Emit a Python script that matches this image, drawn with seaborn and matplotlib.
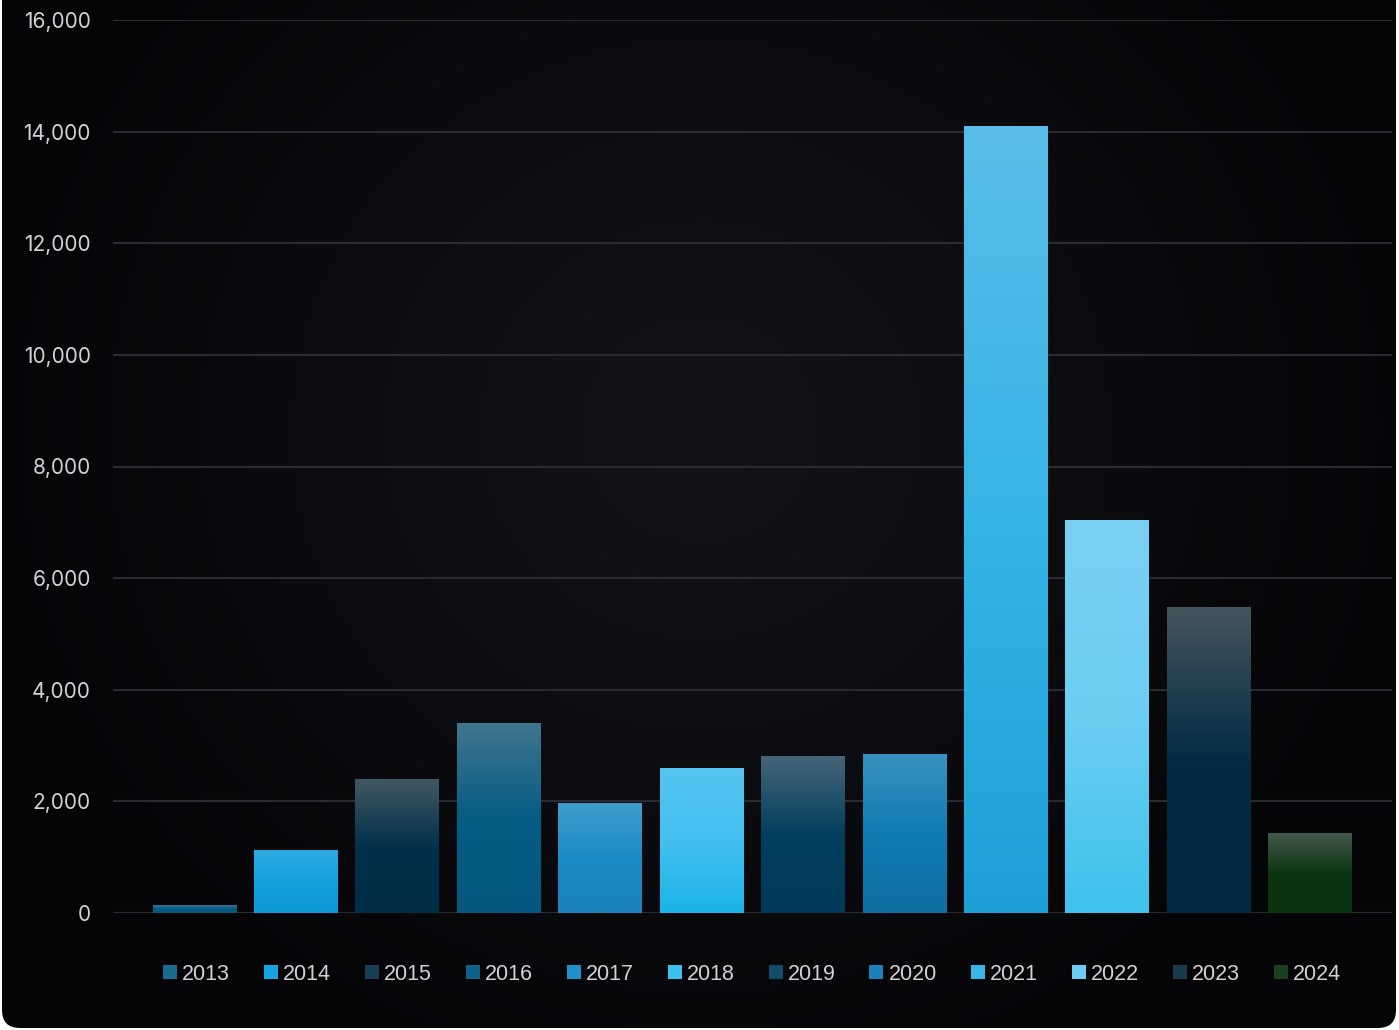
import numpy as np
import matplotlib
matplotlib.use("Agg")
import matplotlib.pyplot as plt
import seaborn as sns
from matplotlib.patches import FancyBboxPatch, Patch
from matplotlib.colors import to_rgb
from matplotlib.ticker import FuncFormatter

# ---------------- data ----------------
years = ["2013", "2014", "2015", "2016", "2017", "2018",
         "2019", "2020", "2021", "2022", "2023", "2024"]
values = [150, 1130, 2400, 3400, 1970, 2600, 2810, 2850, 14100, 7040, 5480, 1430]

# gradient colours per bar (top, middle, bottom)
top_colors = ["#3d7898", "#2eaae2", "#425863", "#40768f", "#3e9dcc", "#56c5f1",
              "#466578", "#3a92c0", "#59bde9", "#7bd1f4", "#46545d", "#45584b"]
mid_colors = ["#0a5d82", "#12a2de", "#03304a", "#055c84", "#1c8cc6", "#44c0f0",
              "#023f5e", "#0f7cb2", "#36b4e5", "#6ccdf2", "#032c44", "#0b3511"]
bot_colors = ["#04597f", "#0e98d8", "#012e46", "#04587f", "#1a82ba", "#1ab4e8",
              "#013a58", "#0e6fa2", "#1e9fd8", "#3ec2ec", "#022a42", "#0a3310"]
legend_colors = ["#1a6a90", "#14a4e0", "#173f55", "#0d6288", "#2090c8", "#3cc0f0",
                 "#134c6a", "#1a82b8", "#38b6e8", "#6ccdf2", "#1a3a50", "#1a4020"]

y_ticks = list(range(0, 16001, 2000))

W, H = 1399, 1030
sns.set_theme(style="dark")
plt.rcParams["font.family"] = ["Inter", "DejaVu Sans"]

fig = plt.figure(figsize=(W / 100, H / 100), dpi=100, facecolor="white")

# ---------------- background card with radial gradient ----------------
bg = fig.add_axes([0, 0, 1, 1], zorder=-5)
bg.set_xlim(0, W)
bg.set_ylim(0, H)
bg.axis("off")
yy, xx = np.mgrid[0:H, 0:W]
cx, cy = 700, H - 430
r = np.sqrt((xx - cx) ** 2 + ((yy - cy) * 1.05) ** 2)
t = np.clip(r / 720, 0, 1) ** 1.1
c_in = np.array(to_rgb("#131418"))
c_out = np.array(to_rgb("#050508"))
img = c_in[None, None, :] * (1 - t[..., None]) + c_out[None, None, :] * t[..., None]
card = FancyBboxPatch((2, 2), W - 5, H + 60, boxstyle="round,pad=0,rounding_size=18",
                      transform=bg.transData, facecolor="none", edgecolor="none")
bg.add_patch(card)
im = bg.imshow(img, extent=(0, W, 0, H), origin="lower", aspect="auto", zorder=0)
im.set_clip_path(card)

# ---------------- main axes ----------------
ax = fig.add_axes([113 / W, 117 / H, (1392 - 113) / W, (913 - 20) / H])
ax.set_facecolor("none")

sns.barplot(x=years, y=values, hue=years, palette=bot_colors, width=0.82,
            ax=ax, legend=False, saturation=1, linewidth=0, zorder=2)


def gradient(top, mid, bot, n=256):
    s = np.linspace(0, 1, n)[:, None]
    ct, cm, cb = (np.array(to_rgb(c)) for c in (top, mid, bot))
    g = np.where(s <= 0.5, ct + (cm - ct) * (s / 0.5), cm + (cb - cm) * ((s - 0.5) / 0.5))
    return g[:, None, :]


for p in ax.patches:
    x0, w, h = p.get_x(), p.get_width(), p.get_height()
    idx = int(round(x0 + w / 2))
    g = gradient(top_colors[idx], mid_colors[idx], bot_colors[idx])
    gi = ax.imshow(g, extent=(x0, x0 + w, 0, h), aspect="auto", zorder=2.5,
                   origin="upper", interpolation="bilinear")
    gi.set_clip_path(p)

ax.set_xlim(-0.8, len(years) - 1 + 0.81)
ax.set_ylim(0, 16000)
ax.set_yticks(y_ticks)
ax.yaxis.set_major_formatter(FuncFormatter(lambda v, _: f"{int(v):,}"))
ax.tick_params(axis="y", length=0, pad=16, labelsize=15, labelcolor="#d2d2d6")
ax.tick_params(axis="x", length=0, labelbottom=False)
ax.set_xlabel("")
ax.set_ylabel("")
for s in ax.spines.values():
    s.set_visible(False)
ax.yaxis.grid(True, color="#2a2b30", linewidth=1.5, zorder=0)
ax.xaxis.grid(False)
ax.set_axisbelow(True)

# ---------------- legend ----------------
handles = [Patch(facecolor=c, edgecolor="none") for c in legend_colors]
leg = fig.legend(handles, years, loc="center", bbox_to_anchor=(752 / W, 1 - 974 / H),
                 ncol=12, frameon=False, prop={"family": ["Liberation Sans", "DejaVu Sans"], "size": 15.5},
                 labelcolor="#d2d2d6",
                 handlelength=0.65, handleheight=0.65, handletextpad=0.23,
                 columnspacing=1.58)

fig.savefig("out.png", dpi=100, facecolor="white")
